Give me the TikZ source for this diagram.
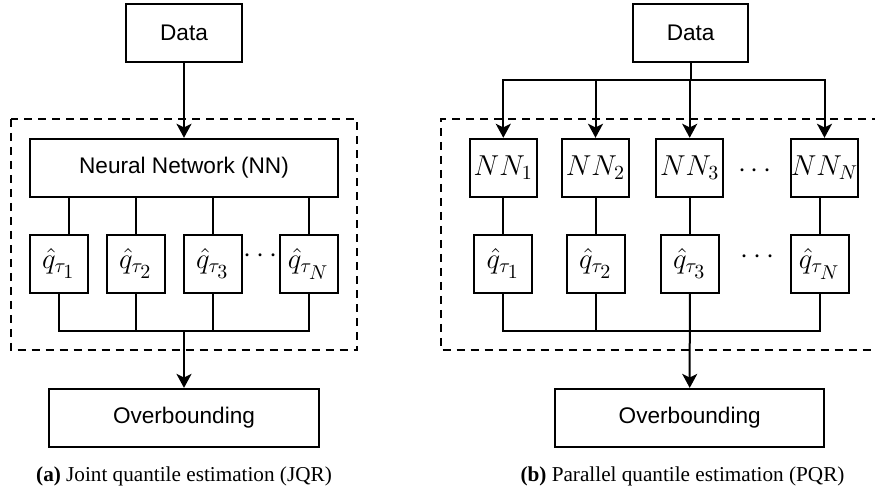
\documentclass[tikz,border=0pt]{standalone}
\usepackage{fontspec}
\setmainfont{Liberation Serif}
\setsansfont{Liberation Sans}
\usetikzlibrary{arrows.meta}
\newcommand{\qt}[1]{\hat{q}_{\tau_{\scriptstyle #1}}}

\begin{document}
\begin{tikzpicture}[x=0.5pt, y=-0.5pt, line width=1pt,
    box/.style={draw, rectangle, minimum height=28.9pt, inner sep=0pt},
    txt/.style={box, font=\sffamily\fontsize{11.3}{13}\selectfont},
    mth/.style={box, font=\fontsize{14.5}{17}\selectfont},
    arr/.style={-{Stealth[length=7pt, width=7.5pt, inset=1.8pt]}},
    captext/.style={font=\fontsize{10.6}{12}\selectfont}]
    \useasboundingbox (0,0) rectangle (875,491);

    % (a) joint
    \draw[dash pattern=on 4pt off 3pt] (11,119) rectangle (357,350.3);
    \node[txt, minimum width=58pt] (dataA) at (184,33) {Data};
    \node[txt, minimum width=154pt] (nnA) at (184,167.7) {Neural Network (NN)};
    \node[mth, minimum width=28.9pt] (qA1) at (58.8,263.8) {$\qt{1}$};
    \node[mth, minimum width=28.9pt] (qA2) at (135.7,263.8) {$\qt{2}$};
    \node[mth, minimum width=28.9pt] (qA3) at (212.7,263.8) {$\qt{3}$};
    \node[mth, minimum width=28.9pt] (qA4) at (308.7,263.8) {$\qt{N}$};
    \node[font=\fontsize{14.5}{17}\selectfont] (dotsA) at (260.5,256) {$\cdots$};
    \node[txt, minimum width=135pt] (outA) at (184,417.8) {Overbounding};
    \coordinate (jA) at (184,330.7);
    \node[captext] (capA) at (184,476.7) {\textbf{(a)} Joint quantile estimation (JQR)};

    \draw[arr] (dataA) -- (nnA);
    \draw ([xshift=5pt]qA1.north) -- ([xshift=5pt]qA1.north |- nnA.south);
    \foreach \i in {2,3,4}
        \draw (qA\i.north) -- (qA\i.north |- nnA.south);
    \draw (qA1.south) |- (jA) -| (qA4.south);
    \draw (qA2.south) -- (qA2.south |- jA);
    \draw (qA3.south) -- (qA3.south |- jA);
    \draw[arr] (jA) -- (outA);

    % (b) parallel
    \draw[dash pattern=on 4pt off 3pt] (880,119) -- (441,119) -- (441,350.3) -- (880,350.3);
    \node[txt, minimum width=57.7pt] (dataB) at (690.7,33) {Data};
    \node[mth, minimum width=33.7pt] (nnB1) at (503.3,167.7) {$NN_1$};
    \node[mth, minimum width=33.7pt] (nnB2) at (595.5,167.7) {$NN_2$};
    \node[mth, minimum width=33.7pt] (nnB3) at (689.7,167.7) {$NN_3$};
    \node[mth, minimum width=33.7pt] (nnB4) at (824.5,167.7) {$NN_N$};
    \node[font=\fontsize{14.5}{17}\selectfont] (dotsB1) at (755,171) {$\cdots$};
    \node[mth, minimum width=28.9pt] (qB1) at (503.2,263.8) {$\qt{1}$};
    \node[mth, minimum width=28.9pt] (qB2) at (595.7,263.8) {$\qt{2}$};
    \node[mth, minimum width=28.9pt] (qB3) at (689.8,263.8) {$\qt{3}$};
    \node[mth, minimum width=28.9pt] (qB4) at (819.7,263.8) {$\qt{N}$};
    \node[font=\fontsize{14.5}{17}\selectfont] (dotsB2) at (757.7,257) {$\cdots$};
    \node[txt, minimum width=134.7pt] (outB) at (689.7,417.8) {Overbounding};
    \coordinate (jB) at (690.7,80.3);
    \coordinate (kB) at (689.8,330.7);
    \node[captext] (capB) at (682.5,476.7) {\textbf{(b)} Parallel quantile estimation (PQR)};

    \draw (dataB) -- (jB);
    \draw[arr] (jB) -| (nnB1);
    \draw[arr] (jB) -| (nnB4);
    \draw[arr] (jB -| nnB2) -- (nnB2);
    \draw[arr] (jB -| nnB3) -- (nnB3);
    \foreach \i in {1,...,4}
        \draw (qB\i.north) -- (qB\i.north |- nnB\i.south);
    \draw (qB1.south) |- (kB) -| (qB4.south);
    \draw (qB2.south) -- (qB2.south |- kB);
    \draw[arr] (qB3) -- (outB);
\end{tikzpicture}
\end{document}
